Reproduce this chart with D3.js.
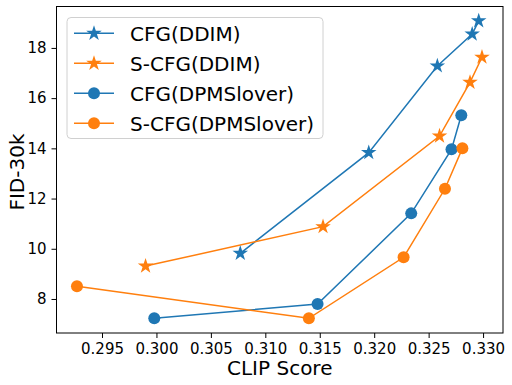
<!DOCTYPE html>
<html>
<head>
<meta charset="utf-8">
<script src="https://cdn.jsdelivr.net/npm/d3@7"></script>
<style>
  body { margin: 0; background: #fff; }
  text { font-family: "DejaVu Sans", sans-serif; }
</style>
</head>
<body>
<div id="chart"></div>
<script>
    // values
    var seriesNames = ["CFG(DDIM)", "S-CFG(DDIM)", "CFG(DPMSlover)", "S-CFG(DPMSlover)"];
    var cfgDdimClip = [0.3077, 0.3195, 0.3258, 0.3290, 0.3296];
    var cfgDdimFid = [9.82, 13.83, 17.28, 18.55, 19.08];
    var scfgDdimClip = [0.2990, 0.3153, 0.3260, 0.3288, 0.3299];
    var scfgDdimFid = [9.31, 10.88, 14.49, 16.63, 17.63];
    var cfgDpmClip = [0.2998, 0.3148, 0.3234, 0.3271, 0.3280];
    var cfgDpmFid = [7.23, 7.80, 11.41, 13.96, 15.32];
    var scfgDpmClip = [0.2927, 0.3140, 0.3227, 0.3265, 0.3281];
    var scfgDpmFid = [8.51, 7.23, 9.66, 12.39, 14.00];
    var xTicks = [0.295, 0.300, 0.305, 0.310, 0.315, 0.320, 0.325, 0.330];
    var yTicks = [8, 10, 12, 14, 16, 18];

    var blue = "#1f77b4";
    var orange = "#ff7f0e";

    var series = [
        { name: seriesNames[0], xs: cfgDdimClip, ys: cfgDdimFid, color: blue, marker: "star" },
        { name: seriesNames[1], xs: scfgDdimClip, ys: scfgDdimFid, color: orange, marker: "star" },
        { name: seriesNames[2], xs: cfgDpmClip, ys: cfgDpmFid, color: blue, marker: "circle" },
        { name: seriesNames[3], xs: scfgDpmClip, ys: scfgDpmFid, color: orange, marker: "circle" }
    ];

    var width = 512, height = 385;
    var margin = { left: 56.5, right: 9, top: 6.5, bottom: 52 };

    var svg = d3.select("#chart").append("svg")
        .attr("width", width)
        .attr("height", height);

    var x = d3.scaleLinear()
        .domain([0.29082, 0.33183])
        .range([margin.left, width - margin.right]);
    var y = d3.scaleLinear()
        .domain([6.645, 19.65])
        .range([height - margin.bottom, margin.top]);

    var xAxis = svg.append("g")
        .attr("transform", "translate(0," + (height - margin.bottom) + ")")
        .call(d3.axisBottom(x).tickValues(xTicks).tickFormat(d3.format(".3f")).tickSizeOuter(0).tickSize(5).tickPadding(5));
    var yAxis = svg.append("g")
        .attr("transform", "translate(" + margin.left + ",0)")
        .call(d3.axisLeft(y).tickValues(yTicks).tickSizeOuter(0).tickSize(5).tickPadding(5));

    [xAxis, yAxis].forEach(function (a) {
        a.select(".domain").remove();
        a.selectAll("text").style("font-size", "15px").attr("fill", "#000");
        a.selectAll("line").attr("stroke", "#000").attr("stroke-width", 1);
    });

    // frame
    svg.append("rect")
        .attr("x", margin.left)
        .attr("y", margin.top)
        .attr("width", width - margin.left - margin.right)
        .attr("height", height - margin.top - margin.bottom)
        .attr("fill", "none")
        .attr("stroke", "#000")
        .attr("stroke-width", 1);

    svg.append("text")
        .attr("x", (margin.left + width - margin.right) / 2)
        .attr("y", 375)
        .attr("text-anchor", "middle")
        .style("font-size", "20px")
        .text("CLIP Score");

    svg.append("text")
        .attr("transform", "translate(23.5,172) rotate(-90)")
        .attr("text-anchor", "middle")
        .style("font-size", "20px")
        .text("FID-30k");

    var line = d3.line()
        .x(function (d) { return x(d[0]); })
        .y(function (d) { return y(d[1]); });

    var star = d3.symbol().type(d3.symbolStar).size(75);

    function drawMarker(g, m, color, px, py) {
        if (m === "star") {
            g.append("path")
                .attr("d", star())
                .attr("transform", "translate(" + px + "," + py + ")")
                .attr("fill", color);
        } else {
            g.append("circle")
                .attr("cx", px)
                .attr("cy", py)
                .attr("r", 6)
                .attr("fill", color);
        }
    }

    series.forEach(function (s) {
        var pts = s.xs.map(function (v, i) { return [v, s.ys[i]]; });
        var g = svg.append("g");
        g.append("path")
            .attr("d", line(pts))
            .attr("fill", "none")
            .attr("stroke", s.color)
            .attr("stroke-width", 1.5);
        pts.forEach(function (p) {
            drawMarker(g, s.marker, s.color, x(p[0]), y(p[1]));
        });
    });

    // legend
    var lg = svg.append("g");
    lg.append("rect")
        .attr("x", 67)
        .attr("y", 17.5)
        .attr("width", 256)
        .attr("height", 121)
        .attr("rx", 4)
        .attr("fill", "#fff")
        .attr("fill-opacity", 0.8)
        .attr("stroke", "#d0d0d0")
        .attr("stroke-width", 1);

    series.forEach(function (s, i) {
        var ly = 33.3 + i * 30;
        lg.append("line")
            .attr("x1", 74).attr("x2", 114)
            .attr("y1", ly).attr("y2", ly)
            .attr("stroke", s.color)
            .attr("stroke-width", 1.5);
        drawMarker(lg, s.marker, s.color, 94, ly);
        lg.append("text")
            .attr("x", 130)
            .attr("y", ly + 8)
            .style("font-size", "20px")
            .text(s.name);
    });
</script>
</body>
</html>
